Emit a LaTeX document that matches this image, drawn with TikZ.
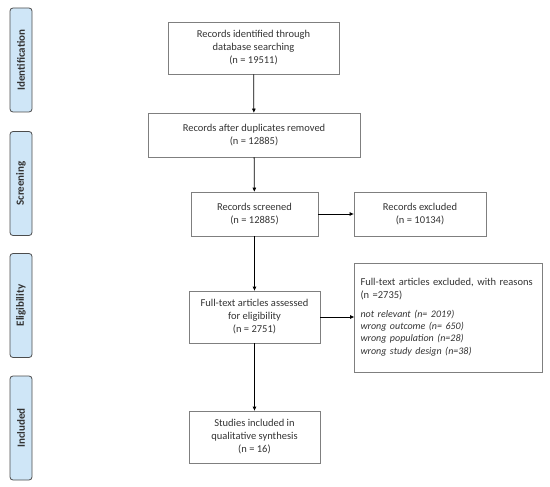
\documentclass[tikz,border=0pt]{standalone}
\usepackage{fontspec}
\setmainfont{Carlito}
\usetikzlibrary{positioning, arrows.meta}
\usepackage{xcolor}
\definecolor{phasefill}{HTML}{CFE6F7}
\definecolor{boxline}{HTML}{7F7F7F}
\definecolor{txt}{HTML}{333333}

\begin{document}
\begin{tikzpicture}[
        x=1pt, y=-1pt,
        >={Triangle[length=4pt,width=3.5pt]},
        flowbox/.style={
            draw=boxline,
            line width=0.8pt,
            align=center,
            font=\fontsize{10.5}{13}\selectfont,
            text=txt,
            inner sep=2pt
        },
        phase/.style={
            draw=black!70,
            fill=phasefill,
            rounded corners=3pt,
            line width=0.8pt,
            minimum width=104pt,
            minimum height=22pt,
            rotate=90,
            font=\fontsize{11}{13}\selectfont\bfseries,
            text=txt
        },
        flow/.style={->, line width=0.8pt, black}
    ]
        \useasboundingbox (0,0) rectangle (550,487);

        % Phases
        \node[phase] (ident) at (21,60) {Identification};
        \node[phase] (screen) at (21,183.5) {Screening};
        \node[phase] (elig) at (21,305.5) {Eligibility};
        \node[phase] (incl) at (21,428) {Included};

        % Main column
        \node[flowbox, minimum width=171pt, minimum height=52pt] (found) at (253.5,48)
            {Records identified through\\database searching\\(n = 19511)};
        \node[flowbox, minimum width=212pt, minimum height=44pt] (dedup) at (254,135)
            {Records after duplicates removed\\(n = 12885)};
        \node[flowbox, minimum width=127pt, minimum height=44pt] (screened) at (254.5,214)
            {Records screened\\(n = 12885)};
        \node[flowbox, minimum width=131pt, minimum height=52pt] (fulltext) at (254.5,317)
            {Full-text articles assessed\\for eligibility\\(n = 2751)};
        \node[flowbox, minimum width=131pt, minimum height=52pt] (studies) at (254.5,437)
            {Studies included in\\qualitative synthesis\\(n = 16)};

        % Exclusions
        \node[flowbox, minimum width=132pt, minimum height=44pt] (recexcl) at (420,214)
            {Records excluded\\(n = 10134)};
        \node[flowbox, align=left, text width=176pt, minimum height=109pt, inner sep=6pt] (ftexcl) at (448.5,317.5)
            {Full-text articles excluded, with reasons\\(n =2735)\\[7pt]
             {\itshape\fontsize{10}{12}\selectfont not relevant (n= 2019)\\wrong outcome (n= 650)\\wrong population (n=28)\\wrong study design (n=38)}};

        % Arrows
        \draw[flow] (found) -- (dedup);
        \draw[flow] (dedup) -- (screened);
        \draw[flow] (screened) -- (fulltext);
        \draw[flow] (fulltext) -- (studies);
        \draw[flow] (screened) -- (recexcl);
        \draw[flow] (fulltext) -- (ftexcl.west |- fulltext);
    \end{tikzpicture}
\end{document}
